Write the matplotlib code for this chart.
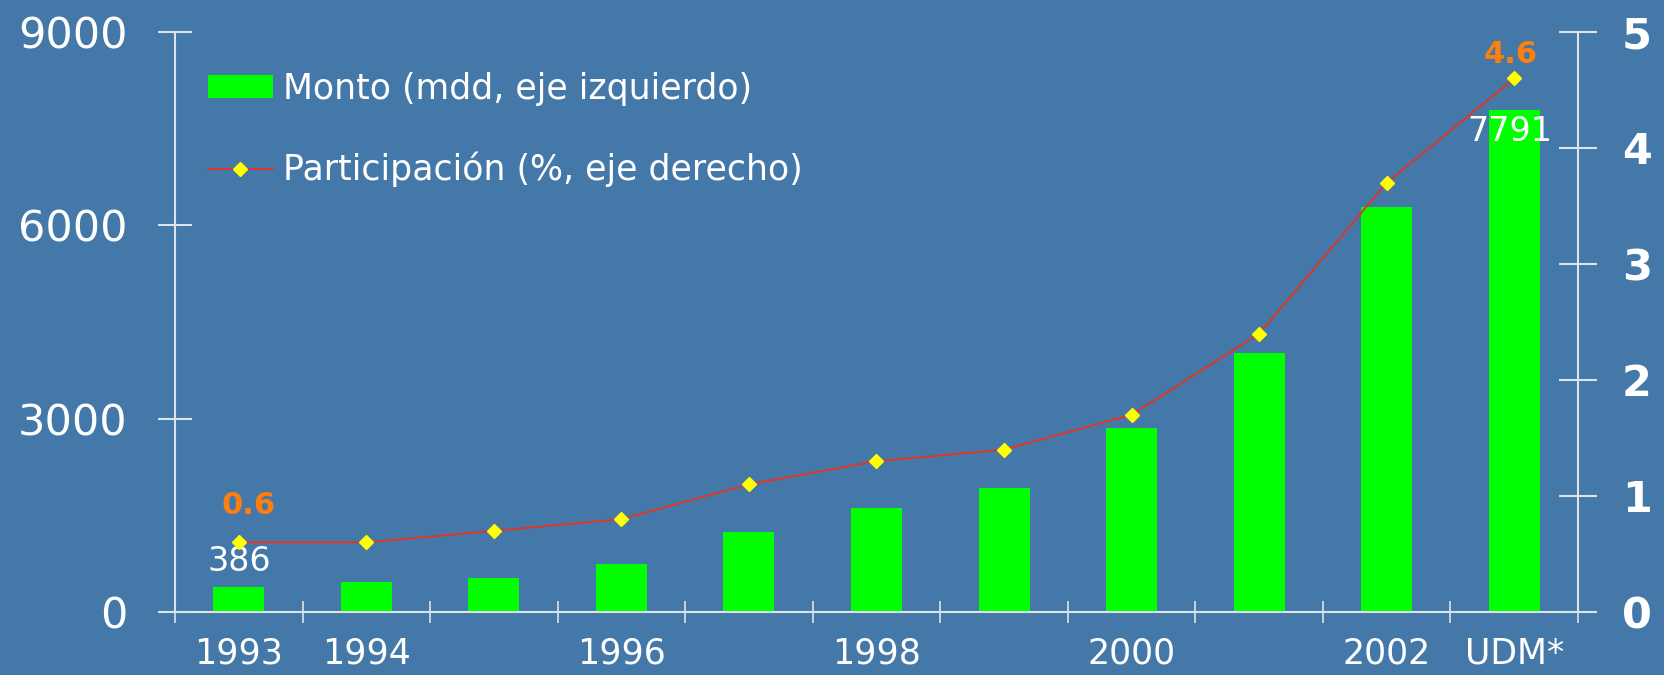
import matplotlib.pyplot as plt
from matplotlib.patches import Patch
from matplotlib.lines import Line2D

plt.rcParams['font.family'] = ['DejaVu Sans']

years = ['1993', '1994', '1995', '1996', '1997', '1998', '1999', '2000', '2001', '2002', 'UDM*']
labels = ['1993', '1994', '', '1996', '', '1998', '', '2000', '', '2002', 'UDM*']
monto = [386, 460, 526, 740, 1234, 1612, 1924, 2862, 4013, 6283, 7791]
participacion = [0.6, 0.6, 0.7, 0.8, 1.1, 1.3, 1.4, 1.7, 2.4, 3.7, 4.6]

bg = '#4478a8'
axcol = '#dde3ea'

fig = plt.figure(figsize=(16.65, 6.75), dpi=100, facecolor=bg)
ax = fig.add_axes([175 / 1665, 1 - 612 / 675, (1578 - 175) / 1665, 580 / 675])
ax.set_facecolor('none')
ax2 = ax.twinx()

x = list(range(len(years)))
ax.bar(x, monto, width=0.4, color='#00ff00', zorder=2)
ax2.plot(x, participacion, color='#e8321e', lw=1.3, marker='D', ms=7,
         mfc='#ffff00', mec='#ffff00', zorder=3)

ax.set_xlim(-0.5, len(years) - 0.5)
ax.set_ylim(0, 9000)
ax2.set_ylim(0, 5)

for a in (ax, ax2):
    for s in a.spines.values():
        s.set_visible(False)
ax.spines['left'].set_visible(True)
ax.spines['bottom'].set_visible(True)
ax2.spines['right'].set_visible(True)
for s in (ax.spines['left'], ax.spines['bottom'], ax2.spines['right']):
    s.set_color(axcol)
    s.set_linewidth(1.5)

ax.set_yticks([0, 3000, 6000, 9000])
ax.tick_params(axis='y', direction='inout', length=24, width=1.5, color=axcol,
               labelcolor='white', labelsize=31, pad=22)
ax2.set_yticks([0, 1, 2, 3, 4, 5])
ax2.tick_params(axis='y', direction='inout', length=27, width=1.5, color=axcol,
                labelcolor='white', labelsize=31, pad=18)
for t in ax2.get_yticklabels():
    t.set_fontweight('bold')

ax.set_xticks([i - 0.5 for i in range(len(years) + 1)])
ax.set_xticklabels([])
ax.set_xticks(x, minor=True)
ax.set_xticklabels(labels, minor=True)
ax.tick_params(axis='x', which='major', direction='inout', length=16, width=1.2, color=axcol)
ax.tick_params(axis='x', which='minor', length=0, labelcolor='white', labelsize=25, pad=18)

# annotations
ax2.annotate('0.6', (0, participacion[0]), xytext=(10, 37), textcoords='offset pixels',
             ha='center', va='center', color='#ff7f0e', fontsize=22, fontweight='bold')
ax.annotate(str(monto[0]), (0, monto[0]), xytext=(0, 26), textcoords='offset pixels',
            ha='center', va='center', color='white', fontsize=24)
ax2.annotate('4.6', (10, participacion[-1]), xytext=(-4, 24), textcoords='offset pixels',
             ha='center', va='center', color='#ff7f0e', fontsize=22, fontweight='bold')
ax.annotate(str(monto[-1]), (10, monto[-1]), xytext=(-4, -22), textcoords='offset pixels',
            ha='center', va='center', color='white', fontsize=24)

handles = [Patch(facecolor='#00ff00', edgecolor='none'),
           Line2D([], [], color='#e8321e', lw=1.3, marker='D', ms=7,
                  mfc='#ffff00', mec='#ffff00')]
leg = fig.legend(handles, ['Monto (mdd, eje izquierdo)', 'Participación (%, eje derecho)'],
                 loc='upper left', bbox_to_anchor=(208 / 1665, 1 - 72 / 675),
                 frameon=False, fontsize=25, handlelength=1.87, handleheight=0.63,
                 handletextpad=0.3, labelspacing=1.32, borderpad=0, borderaxespad=0)
for t in leg.get_texts():
    t.set_color('white')

fig.savefig('out.png', dpi=100, facecolor=bg)
